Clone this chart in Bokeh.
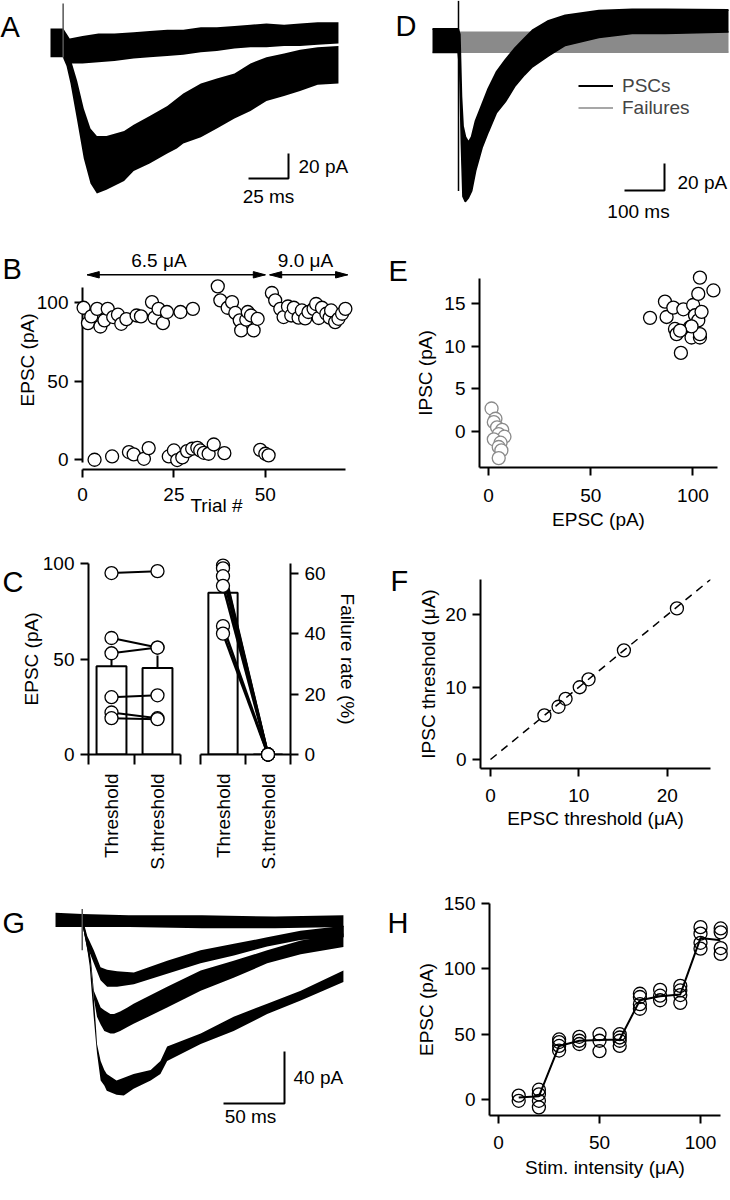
import math
from bokeh.plotting import figure
from bokeh.layouts import row, column
from bokeh.models import Range1d, FixedTicker, Legend, LegendItem
from bokeh.core.properties import value
from bokeh.embed import file_html
from bokeh.resources import INLINE

FONT = "Liberation Sans"
TICK_FS = "19px"
LAB_FS = "19px"
LET_FS = "29px"
GREY = "#8a8a8a"

# ======================= DATA =======================
# A: overlaid EPSC sweeps (ms, pA) - envelopes of failures and successes
A_fail_t = [0, 8, 12, 20, 30, 40, 52, 62, 73, 83, 94, 104, 115, 125, 135, 146, 156, 167, 180]
A_fail_hi = [12, 12, 4, 6, 8, 8, 9, 10, 11, 11, 13, 13, 14, 15, 16, 15, 16, 17, 17]
A_fail_lo = [-11, -11, -16, -16, -15, -14, -12, -11, -10, -9, -7, -6, -4, -3, -3, -2, -2, -1, 0]
A_succ_t = [8, 10, 12.5, 16.7, 20.8, 25, 29, 35, 46, 52, 62, 73, 79, 83, 94, 104, 115, 125, 135, 146, 156, 167, 180]
A_succ_hi = [0, -5, -12, -30, -52, -68, -74, -74, -70, -65, -58, -50, -44, -40, -32, -28, -24, -16, -11, -8, -5, -3, -2]
A_succ_lo = [-12, -18, -32, -62, -92, -112, -120, -117, -110, -102, -96, -88, -84, -80, -75, -68, -60, -54, -46, -42, -38, -33, -32]
A_stim = [7.9, 32, -11]          # time, top, bottom
A_scalebar = [25, 20]            # ms, pA

# D: PSCs (black) and failures (grey), ms / pA
D_t = [0, 64, 68, 72, 76, 82, 90, 98, 108, 124, 140, 160, 182, 207, 230, 250, 290, 332, 416, 499, 582, 740]
D_hi = [10, 10, 6, -40, -62, -70, -74, -70, -58, -46, -34, -22, -13, -4, 3, 9, 16, 20, 23.5, 24.4, 24.4, 24]
D_lo = [-7.4, -7.4, -20, -75, -114, -118, -115, -110, -95, -78, -66, -52, -44, -32, -24, -18, -10, -2.2, 3.7, 6.7, 6.7, 7.8]
D_fail_t = [66, 740]
D_fail_hi = [7.5, 7.5]
D_fail_lo = [-7.2, -7.2]
D_stim = [65, 31, -110]
D_scalebar = [100, 20]

# B: EPSC amplitude vs trial
B_trial = [0.3, 1.5, 2.4, 4.0, 4.9, 6.0, 6.9, 8.4, 9.7, 10.6, 12.0, 14.8, 16.0, 19.0, 19.7, 20.8, 22.0, 23.1, 26.8, 30.2,
           37.0, 37.7, 39.7, 40.9, 41.8, 43.0, 43.4, 44.8, 45.2, 46.1, 46.8, 47.9,
           51.8, 52.7, 54.1, 55.0, 56.2, 57.1, 57.8, 59.1, 60.0, 60.9, 61.8, 63.2, 63.9, 64.6, 65.5, 66.7, 67.6, 68.0, 69.1, 70.0, 71.0, 71.9,
           3.3, 8.1, 12.7, 14.0, 16.8, 18.1, 23.6, 25.0, 25.9, 27.3, 28.6, 30.0, 31.4, 32.2, 33.2, 34.5, 35.9, 38.8, 48.6, 50.0, 50.9]
B_epsc = [96.6, 86.8, 91.1, 95.9, 84.7, 88.6, 95.9, 90.7, 92.2, 86.4, 89.4, 91.7, 91.1, 100.2, 90.3, 95.9, 86.8, 93.9, 93.9, 95.9,
          110.2, 101.3, 96.6, 100.2, 93.3, 88.6, 82.2, 89.0, 93.9, 91.7, 82.2, 89.6,
          106.0, 101.3, 95.9, 90.7, 97.4, 91.7, 96.6, 90.3, 94.9, 89.8, 93.9, 95.9, 99.0, 90.1, 96.6, 92.8, 90.3, 94.9, 87.5, 89.6, 92.8, 95.9,
          0.0, 2.1, 4.9, 3.4, 0.6, 7.4, 2.1, 5.9, -0.2, 1.5, 5.5, 7.0, 7.6, 5.9, 4.4, 3.8, 9.7, 4.2, 6.3, 3.8, 2.8]
B_blk_label = ["6.5 \u03bcA", "9.0 \u03bcA"]
B_blk_start = [1.3, 51.2]
B_blk_end = [50.0, 72.5]
B_blk_text_x = [20.9, 61.0]

# E: IPSC vs EPSC
E_fail_epsc = [1.5, 3.4, 2.6, 4.2, 6.7, 5.0, 7.8, 2.6, 5.9, 5.0, 6.3, 5.0]
E_fail_ipsc = [2.7, 1.5, 1.1, 0.5, 0.2, -0.3, -0.6, -0.9, -1.3, -1.8, -2.2, -3.1]
E_succ_epsc = [79, 86.3, 87.1, 90.4, 91.2, 92, 95.3, 94.1, 98.5, 99.3, 100.1, 101, 102.6, 103.4, 104.2, 102.6, 103.4, 110, 103.4, 99.3, 93.7]
E_succ_ipsc = [13.3, 15.2, 13.4, 14.5, 12, 11.4, 14.3, 9.2, 12.2, 11, 14.8, 13.6, 13, 11, 14, 16.1, 18, 16.5, 11.4, 12.3, 11.8]

# C: threshold vs sub(S.)threshold
C_cond = ["Threshold", "S.threshold"]
C_epsc_thr = [95, 61, 53, 30, 22, 19]
C_epsc_sub = [96, 56, 56, 31, 19, 18.5]
C_epsc_mean = [46.2, 45.3]
C_epsc_sem = [5.9, 6.5]
C_fail_thr = [62.5, 61.6, 59, 55.8, 42.5, 40]
C_fail_sub = [0, 0, 0, 0, 0, 0]
C_fail_mean = [53.5, 0]

# F: IPSC threshold vs EPSC threshold
F_epsc_thr = [6.1, 7.7, 8.5, 10.1, 11.1, 15.1, 21.1]
F_ipsc_thr = [6.1, 7.3, 8.4, 10.0, 11.1, 15.1, 20.9]
F_unity = [0, 25]

# G: EPSCs at increasing stimulus intensity (ms, pA)
G_stim = [21.9, 8.9, -23]
G0_t = [0, 22, 60, 120, 180, 236]
G0_hi = [6, 5, 4, 4, 3, 4]
G0_lo = [-5, -5, -5, -6, -6, -5]
G1_t = [22, 26, 31.4, 36.9, 42.3, 50.5, 64.2, 91.5, 118.9, 146.2, 173.5, 200.8, 236.3]
G1_hi = [2, -12, -23, -36, -38, -39, -40, -31, -23, -18, -13, -8, -4]
G1_lo = [-3, -20, -33, -46, -51, -51, -49, -41, -33, -27, -20, -15, -13]
G2_t = [22, 26, 29, 31.4, 34, 37, 40, 45, 48, 53, 59, 64, 91.5, 119, 146, 173.5, 201, 236]
G2_hi = [2, -14, -30, -54, -60, -67, -69, -72, -72, -70, -67, -64, -51, -38.5, -31, -23, -15.4, -10]
G2_lo = [-3, -22, -36, -60, -74, -80, -85, -87, -87, -85, -82, -79.5, -67, -54, -44, -33, -26, -20.5]
G3_t = [22, 26, 28, 31.4, 33, 34, 37, 40, 42, 50, 56, 64, 78, 86, 91.5, 119, 146, 173.5, 201, 236]
G3_hi = [2, -15, -25, -60, -80, -95, -108, -115, -118, -123, -121, -118, -115, -108, -97, -87, -74, -64, -54, -38.5]
G3_lo = [-3, -22, -35, -75, -92, -102, -123, -127, -131, -134, -134.6, -129.5, -123, -118, -108, -95, -85, -72, -61.5, -47.4]
G_scalebar = [50, 40]

# H: EPSC vs stimulus intensity
H_stim = [10, 10, 20, 20, 20, 20, 30, 30, 30, 30, 40, 40, 40, 50, 50, 50, 60, 60, 60, 60,
          70, 70, 70, 70, 80, 80, 80, 90, 90, 90, 90, 100, 100, 100, 100, 110, 110, 110, 110]
H_epsc = [3, -1, 7.5, 4, -1, -6, 46, 44, 41, 37.5, 48, 45, 42.5, 50, 45, 37, 50, 47.5, 45, 41,
          81, 78.5, 73, 69.5, 84, 79.5, 76, 87, 83.5, 80, 74, 132, 127, 120, 115.5, 131, 128, 116, 111.5]
H_mean_x = [10, 20, 30, 40, 50, 60, 70, 80, 90, 100, 110]
H_mean_y = [1.5, 2.4, 41, 45, 45.5, 46, 76, 79, 80.5, 123.6, 122]


# ======================= HELPERS =======================
def mapper(frame, xr, yr):
    L, R, T, B = frame
    fx = lambda px: xr[0] + (px - L) * (xr[1] - xr[0]) / (R - L)
    fy = lambda py: yr[0] + (B - py) * (yr[1] - yr[0]) / (B - T)
    return fx, fy


def trace_fig(cell, xr, yr):
    cl, cr, ct, cb = cell
    p = figure(width=cr - cl, height=cb - ct, x_range=Range1d(*xr), y_range=Range1d(*yr),
               output_backend="svg", toolbar_location=None, x_axis_location=None,
               y_axis_location=None, min_border=0, frame_align=False)
    p.grid.visible = False
    p.outline_line_color = None
    p.background_fill_color = "white"
    p.border_fill_color = "white"
    return p, mapper(cell, xr, yr)


def axes_fig(cell, frame, xr, yr, y_loc="left"):
    cl, cr, ct, cb = cell
    L, R, T, B = frame
    p = figure(width=cr - cl, height=cb - ct, x_range=Range1d(*xr), y_range=Range1d(*yr),
               output_backend="svg", toolbar_location=None, y_axis_location=y_loc,
               min_border_left=L - cl, min_border_right=cr - R,
               min_border_top=T - ct, min_border_bottom=cb - B, frame_align=False)
    p.grid.visible = False
    p.outline_line_color = None
    p.background_fill_color = "white"
    p.border_fill_color = "white"
    for ax in p.axis:
        ax.axis_line_width = 2
        ax.axis_line_color = "black"
        ax.major_tick_line_width = 2
        ax.major_tick_line_color = "black"
        ax.major_tick_out = 8
        ax.major_tick_in = 0
        ax.minor_tick_line_color = None
        ax.major_label_text_font = FONT
        ax.major_label_text_font_size = TICK_FS
        ax.major_label_text_color = "black"
        ax.major_label_standoff = 6
        ax.axis_label_text_font = FONT
        ax.axis_label_text_font_size = LAB_FS
        ax.axis_label_text_font_style = "normal"
        ax.axis_label_text_color = "black"
    return p, mapper(frame, xr, yr)


def txt(p, x, y, s, size=LAB_FS, align="left", baseline="middle"):
    p.text(x=[x], y=[y], text=[s], text_font=value(FONT), text_font_size=value(size),
           text_align=align, text_baseline=baseline, text_color="black", level="overlay")


def scalebar(p, corner_x, corner_y, sb):
    p.line(x=[corner_x - sb[0], corner_x, corner_x], y=[corner_y, corner_y, corner_y + sb[1]],
           line_color="black", line_width=2)


def circles(p, x, y, color="black", fill="white", size=13):
    p.scatter(x=x, y=y, marker="circle", size=size, line_color=color, line_width=1.3,
              fill_color=fill, fill_alpha=1.0 if fill else 0, level="overlay")


# ======================= PANEL A =======================
pA, (ax_, ay_) = trace_fig((0, 365, 0, 226), (-31.25, 196.9), (-146.4, 34.4))
pA.varea(x=A_fail_t, y1=A_fail_lo, y2=A_fail_hi, fill_color="black")
pA.varea(x=A_succ_t, y1=A_succ_lo, y2=A_succ_hi, fill_color="black")
pA.line(x=[A_stim[0], A_stim[0]], y=[A_stim[1], A_stim[2]], line_color="#555555", line_width=1.5)
scalebar(pA, ax_(288), ay_(178), A_scalebar)
txt(pA, ax_(298), ay_(166), "20 pA")
txt(pA, ax_(268), ay_(196), "25 ms", align="center")
txt(pA, ax_(0), ay_(26), "A", size=LET_FS, baseline="alphabetic")

# ======================= PANEL D =======================
pD, (dx_, dy_) = trace_fig((365, 730, 0, 226), (-167.5, 745), (-136.3, 31.1))
pD.varea(x=D_fail_t, y1=D_fail_lo, y2=D_fail_hi, fill_color=GREY)
rF = pD.line(x=D_fail_t, y=D_fail_hi, line_color=GREY, line_width=1.5)
pD.line(x=D_fail_t, y=D_fail_lo, line_color=GREY, line_width=1.5)
pD.varea(x=D_t, y1=D_lo, y2=D_hi, fill_color="black")
rP = pD.line(x=D_t, y=D_hi, line_color="black", line_width=2)
pD.line(x=D_t, y=D_lo, line_color="black", line_width=1.5)
pD.line(x=[D_stim[0], D_stim[0]], y=[D_stim[1], D_stim[2]], line_color="black", line_width=1.5)
scalebar(pD, dx_(664), dy_(190), D_scalebar)
txt(pD, dx_(677), dy_(182), "20 pA")
txt(pD, dx_(638), dy_(211), "100 ms", align="center")
txt(pD, dx_(395), dy_(25), "D", size=LET_FS, baseline="alphabetic")
legD = Legend(items=[LegendItem(label="PSCs", renderers=[rP]), LegendItem(label="Failures", renderers=[rF])],
              location=(213, 107.5), padding=0, margin=0, spacing=0, glyph_width=35, glyph_height=21,
              label_height=21, label_standoff=9, label_text_font=FONT, label_text_font_size=LAB_FS,
              border_line_color=None, background_fill_alpha=0)
pD.add_layout(legD)

# ======================= PANEL B =======================
# frame is extended above/right of the axes so that the stimulus-interval arrows sit inside it
B_frame = (82, 350, 250, 469)
B_xr = (0, 73.3)
B_yr = (-6.2, 133.0)
pB, (bx_, by_) = axes_fig((0, 365, 226, 535), B_frame, B_xr, B_yr)
pB.xaxis.ticker = FixedTicker(ticks=[0, 25, 50])
pB.yaxis.ticker = FixedTicker(ticks=[0, 50, 100])
pB.yaxis.bounds = (-1.5, 109.5)
pB.xaxis.bounds = (0, 71.9)
pB.xaxis.axis_label = "Trial #"
pB.yaxis.axis_label = "EPSC (pA)"
pB.xaxis.major_label_standoff = 10
pB.xaxis.axis_label_standoff = -9
pB.yaxis.axis_label_standoff = -4
circles(pB, B_trial, B_epsc)
ux = (B_xr[1] - B_xr[0]) / (B_frame[1] - B_frame[0])     # data units per px (x)
uy = (B_yr[1] - B_yr[0]) / (B_frame[3] - B_frame[2])     # data units per px (y)
hl, hw = 12 * ux, 3.2 * uy
arr_y = by_(274.3)
pB.segment(x0=B_blk_start, y0=[arr_y] * 2, x1=B_blk_end, y1=[arr_y] * 2,
           line_color="black", line_width=1.5, level="overlay")
head_xs, head_ys = [], []
for s, e in zip(B_blk_start, B_blk_end):
    head_xs += [[s, s + hl, s + hl], [e, e - hl, e - hl]]
    head_ys += [[arr_y, arr_y + hw, arr_y - hw], [arr_y, arr_y + hw, arr_y - hw]]
pB.patches(xs=head_xs, ys=head_ys, fill_color="black", line_color="black", line_width=1, level="overlay")
for lab, tx in zip(B_blk_label, B_blk_text_x):
    txt(pB, tx, by_(260), lab, align="center")
txt(pB, bx_(2), by_(268), "B", size=LET_FS, baseline="alphabetic")

# ======================= PANEL E =======================
pE, (ex_, ey_) = axes_fig((365, 730, 226, 535), (479, 717, 278, 467), (-4.4, 112), (-4.2, 17.9))
pE.xaxis.ticker = FixedTicker(ticks=[0, 50, 100])
pE.yaxis.ticker = FixedTicker(ticks=[0, 5, 10, 15])
pE.xaxis.axis_label = "EPSC (pA)"
pE.yaxis.axis_label = "IPSC (pA)"
pE.xaxis.major_label_standoff = 13
pE.xaxis.axis_label_standoff = 4
pE.yaxis.axis_label_standoff = 5
circles(pE, E_fail_epsc, E_fail_ipsc, color=GREY)
circles(pE, E_succ_epsc, E_succ_ipsc)
txt(pE, ex_(388), ey_(270), "E", size=LET_FS, baseline="alphabetic")

# ======================= PANEL C =======================
def cat_axis(p):
    ax = p.xaxis[0]
    ax.ticker = FixedTicker(ticks=[0.5, 1.5], minor_ticks=[0, 1, 2])
    ax.major_tick_out = 0
    ax.minor_tick_line_color = "black"
    ax.minor_tick_line_width = 2
    ax.minor_tick_out = 10
    ax.minor_tick_in = 0
    ax.major_label_overrides = {0.5: C_cond[0], 1.5: C_cond[1]}
    ax.major_label_orientation = math.pi / 2
    ax.major_label_standoff = 9


pCL, (clx, cly) = axes_fig((0, 190, 535, 872), (88, 180, 563, 758), (0, 2), (0, 100))
cat_axis(pCL)
pCL.yaxis.ticker = FixedTicker(ticks=[0, 50, 100])
pCL.yaxis.axis_label = "EPSC (pA)"
pCL.yaxis.axis_label_standoff = -2
pos = [0.5, 1.5]
pCL.vbar(x=pos, top=C_epsc_mean, width=0.65, bottom=0, fill_color="white", line_color="black", line_width=2)
pCL.segment(x0=pos, y0=C_epsc_mean, x1=pos, y1=[m + s for m, s in zip(C_epsc_mean, C_epsc_sem)],
            line_color="black", line_width=2)
pCL.segment(x0=[pos[0]] * len(C_epsc_thr), y0=C_epsc_thr, x1=[pos[1]] * len(C_epsc_sub), y1=C_epsc_sub,
            line_color="black", line_width=2)
circles(pCL, [pos[0]] * len(C_epsc_thr), C_epsc_thr)
circles(pCL, [pos[1]] * len(C_epsc_sub), C_epsc_sub)
txt(pCL, clx(2), cly(582), "C", size=LET_FS, baseline="alphabetic")

pCR, (crx, cry) = axes_fig((190, 365, 535, 872), (200, 290, 563, 758), (0, 2), (0, 63.2), y_loc="right")
cat_axis(pCR)
pCR.yaxis.ticker = FixedTicker(ticks=[0, 20, 40, 60])
pCR.yaxis.axis_label = "Failure rate (%)"
pCR.yaxis.axis_label_standoff = 8
pCR.vbar(x=pos, top=C_fail_mean, width=0.65, bottom=0, fill_color="white", line_color="black", line_width=2)
pCR.segment(x0=[pos[0]] * len(C_fail_thr), y0=C_fail_thr, x1=[pos[1]] * len(C_fail_sub), y1=C_fail_sub,
            line_color="black", line_width=2.5)
circles(pCR, [pos[0]] * len(C_fail_thr), C_fail_thr)
circles(pCR, [pos[1]] * len(C_fail_sub), C_fail_sub)

# ======================= PANEL F =======================
pF, (fx_, fy_) = axes_fig((365, 730, 535, 872), (480, 710, 579, 768), (-1.13, 24.9), (-1.24, 24.9))
pF.xaxis.ticker = FixedTicker(ticks=[0, 10, 20])
pF.yaxis.ticker = FixedTicker(ticks=[0, 10, 20])
pF.xaxis.axis_label = "EPSC threshold (\u03bcA)"
pF.yaxis.axis_label = "IPSC threshold (\u03bcA)"
pF.xaxis.major_label_standoff = 12
pF.xaxis.axis_label_standoff = 3
pF.yaxis.axis_label_standoff = 3
pF.line(x=F_unity, y=F_unity, line_color="black", line_width=1.5, line_dash="8 6")
circles(pF, F_epsc_thr, F_ipsc_thr, fill=None)
txt(pF, fx_(390), fy_(580), "F", size=LET_FS, baseline="alphabetic")

# ======================= PANEL G =======================
pG, (gx_, gy_) = trace_fig((0, 365, 872, 1200), (-45.1, 254.1), (-215.4, 36.9))
for t, lo, hi in [(G0_t, G0_lo, G0_hi), (G1_t, G1_lo, G1_hi), (G2_t, G2_lo, G2_hi), (G3_t, G3_lo, G3_hi)]:
    pG.varea(x=t, y1=lo, y2=hi, fill_color="black")
pG.line(x=[G_stim[0], G_stim[0]], y=[G_stim[1], G_stim[2]], line_color="#555555", line_width=1.5)
scalebar(pG, gx_(284), gy_(1103), G_scalebar)
txt(pG, gx_(293), gy_(1077), "40 pA")
txt(pG, gx_(250), gy_(1116), "50 ms", align="center")
txt(pG, gx_(2), gy_(922), "G", size=LET_FS, baseline="alphabetic")

# ======================= PANEL H =======================
pH, (hx_, hy_) = axes_fig((365, 730, 872, 1200), (489, 720, 903, 1115), (-4.46, 109.9), (-12.25, 150.1))
pH.xaxis.ticker = FixedTicker(ticks=[0, 50, 100])
pH.yaxis.ticker = FixedTicker(ticks=[0, 50, 100, 150])
pH.xaxis.axis_label = "Stim. intensity (\u03bcA)"
pH.yaxis.axis_label = "EPSC (pA)"
pH.xaxis.major_label_standoff = 12
pH.xaxis.axis_label_standoff = 5
pH.yaxis.axis_label_standoff = 4
pH.line(x=H_mean_x, y=H_mean_y, line_color="black", line_width=2)
circles(pH, H_stim, H_epsc, fill=None)
txt(pH, hx_(387), hy_(922), "H", size=LET_FS, baseline="alphabetic")

layout = column(row(pA, pD), row(pB, pE), row(pCL, pCR, pF), row(pG, pH))
open("out.html", "w").write(file_html(layout, INLINE))
